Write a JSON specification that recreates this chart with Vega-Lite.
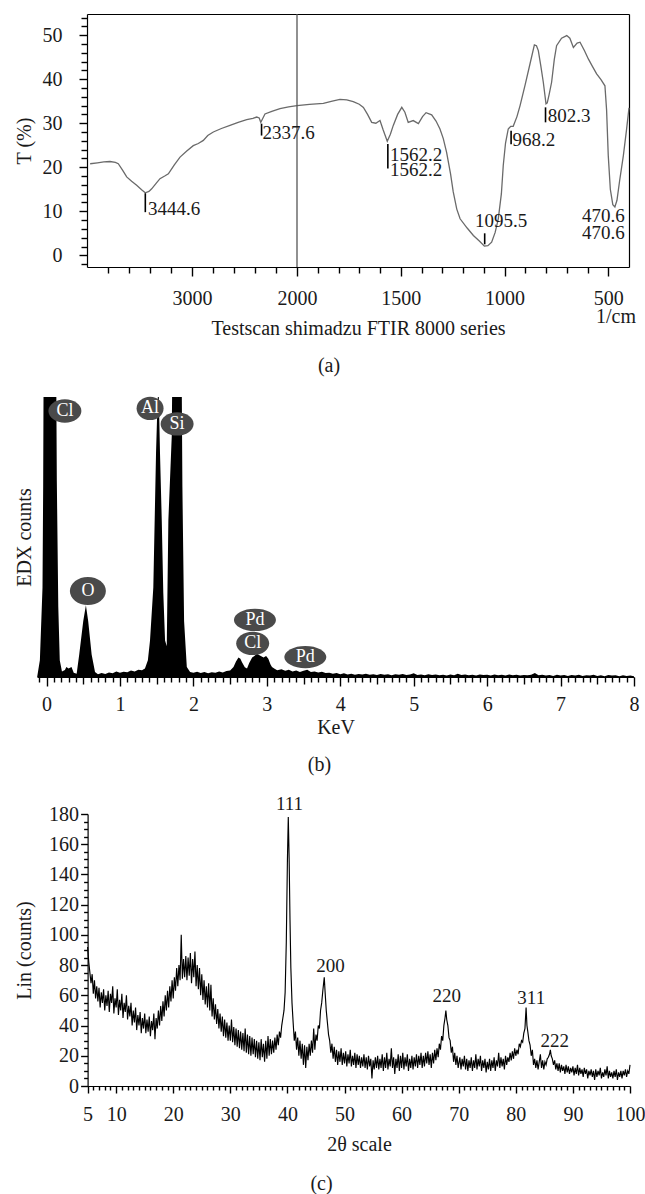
{
"$schema": "https://vega.github.io/schema/vega-lite/v6.json",
"padding": {"left": 14, "top": 13, "right": 0, "bottom": 0},
"background": "white",
"config": {
  "font": "Liberation Serif",
  "view": {"stroke": null},
  "axis": {"labelFont": "Liberation Serif", "titleFont": "Liberation Serif", "labelFontSize": 20, "titleFontSize": 20, "titleFontWeight": "normal", "labelColor": "#1a1a1a", "titleColor": "#1a1a1a", "domainColor": "#000", "tickColor": "#000", "grid": false, "labelFlush": false, "labelOverlap": false, "tickWidth": 1.4, "domainWidth": 1.2},
  "title": {"font": "Liberation Serif", "fontSize": 20, "fontWeight": "normal", "color": "#1a1a1a", "orient": "bottom"}
},
"datasets": {
  "ftir": [{"w":3970,"t":20.8},{"w":3900,"t":21.0},{"w":3840,"t":21.2},{"w":3781,"t":21.3},{"w":3730,"t":21.1},{"w":3702,"t":20.8},{"w":3660,"t":19.3},{"w":3622,"t":17.8},{"w":3575,"t":16.8},{"w":3527,"t":15.9},{"w":3480,"t":14.9},{"w":3445,"t":14.2},{"w":3410,"t":14.5},{"w":3384,"t":15.1},{"w":3340,"t":16.4},{"w":3305,"t":17.4},{"w":3260,"t":18.0},{"w":3225,"t":18.5},{"w":3170,"t":20.5},{"w":3114,"t":22.3},{"w":3050,"t":23.7},{"w":2988,"t":24.9},{"w":2940,"t":25.4},{"w":2892,"t":26.1},{"w":2850,"t":27.2},{"w":2797,"t":28.0},{"w":2720,"t":28.8},{"w":2638,"t":29.5},{"w":2560,"t":30.2},{"w":2479,"t":30.8},{"w":2420,"t":31.1},{"w":2384,"t":31.4},{"w":2360,"t":31.2},{"w":2345,"t":30.2},{"w":2330,"t":30.9},{"w":2305,"t":32.1},{"w":2240,"t":32.7},{"w":2162,"t":33.3},{"w":2080,"t":33.7},{"w":2000,"t":34.0},{"w":1940,"t":34.3},{"w":1873,"t":34.5},{"w":1830,"t":35.0},{"w":1793,"t":35.4},{"w":1760,"t":35.3},{"w":1729,"t":34.9},{"w":1700,"t":34.3},{"w":1680,"t":33.6},{"w":1660,"t":32.0},{"w":1640,"t":30.2},{"w":1620,"t":30.0},{"w":1600,"t":30.6},{"w":1585,"t":28.5},{"w":1565,"t":25.9},{"w":1550,"t":27.5},{"w":1536,"t":29.5},{"w":1515,"t":32.0},{"w":1495,"t":33.6},{"w":1480,"t":32.5},{"w":1464,"t":30.2},{"w":1440,"t":30.6},{"w":1415,"t":29.9},{"w":1395,"t":31.5},{"w":1378,"t":32.4},{"w":1351,"t":31.9},{"w":1330,"t":30.5},{"w":1311,"t":28.7},{"w":1295,"t":26.5},{"w":1279,"t":23.4},{"w":1260,"t":18.5},{"w":1247,"t":14.4},{"w":1230,"t":10.5},{"w":1214,"t":8.3},{"w":1180,"t":6.2},{"w":1150,"t":4.5},{"w":1120,"t":3.2},{"w":1097,"t":2.1},{"w":1080,"t":2.2},{"w":1062,"t":3.0},{"w":1045,"t":5.2},{"w":1030,"t":8.3},{"w":1015,"t":14.0},{"w":1006,"t":20.4},{"w":995,"t":25.5},{"w":982,"t":28.7},{"w":970,"t":29.3},{"w":958,"t":29.3},{"w":940,"t":31.5},{"w":925,"t":34.0},{"w":900,"t":38.8},{"w":877,"t":43.5},{"w":856,"t":47.8},{"w":846,"t":47.6},{"w":837,"t":46.5},{"w":825,"t":43.0},{"w":813,"t":39.3},{"w":800,"t":34.4},{"w":794,"t":34.6},{"w":785,"t":36.5},{"w":773,"t":39.3},{"w":760,"t":44.5},{"w":749,"t":47.6},{"w":725,"t":49.3},{"w":700,"t":49.9},{"w":685,"t":49.3},{"w":668,"t":47.2},{"w":650,"t":48.2},{"w":636,"t":48.4},{"w":615,"t":46.5},{"w":596,"t":44.6},{"w":575,"t":42.8},{"w":556,"t":41.2},{"w":535,"t":39.9},{"w":516,"t":38.5},{"w":508,"t":33.0},{"w":500,"t":22.7},{"w":490,"t":15.0},{"w":478,"t":11.5},{"w":468,"t":11.0},{"w":458,"t":12.5},{"w":445,"t":17.0},{"w":427,"t":22.7},{"w":412,"t":28.5},{"w":400,"t":33.5}],
  "ftirMarks": [{"w":3444.6,"y1":14.1,"y2":9.8},{"w":2337.6,"y1":29.9,"y2":27.2},{"w":1562.2,"y1":25.3,"y2":19.7},{"w":1095.5,"y1":5.0,"y2":2.5},{"w":968.2,"y1":28.3,"y2":25.2},{"w":802.3,"y1":33.6,"y2":30.2}],
  "ftirLabels": [{"w":3420,"t":9.2,"label":"3444.6"},{"w":2329,"t":26.5,"label":"2337.6"},{"w":1552,"t":21.5,"label":"1562.2"},{"w":1552,"t":18.1,"label":"1562.2"},{"w":1142,"t":6.4,"label":"1095.5"},{"w":962,"t":24.9,"label":"968.2"},{"w":792,"t":30.2,"label":"802.3"},{"w":627,"t":7.55,"label":"470.6"},{"w":627,"t":3.8,"label":"470.6"}],
  "edx": [{"k":-0.128,"v":0},{"k":-0.091,"v":6},{"k":-0.055,"v":32},{"k":-0.046,"v":68},{"k":-0.037,"v":130},{"k":0.04,"v":135},{"k":0.127,"v":130},{"k":0.14,"v":70},{"k":0.16,"v":25},{"k":0.18,"v":6},{"k":0.21,"v":2},{"k":0.25,"v":2.5},{"k":0.27,"v":3.6},{"k":0.30,"v":3.0},{"k":0.34,"v":3.6},{"k":0.37,"v":1.5},{"k":0.41,"v":1.2},{"k":0.445,"v":8},{"k":0.50,"v":20},{"k":0.536,"v":25.6},{"k":0.567,"v":20},{"k":0.614,"v":8},{"k":0.66,"v":1.8},{"k":0.70,"v":1.0},{"k":0.75,"v":1.4},{"k":0.80,"v":1.1},{"k":0.85,"v":1.6},{"k":0.90,"v":1.3},{"k":0.95,"v":2.0},{"k":1.00,"v":1.5},{"k":1.05,"v":1.9},{"k":1.10,"v":1.7},{"k":1.15,"v":2.3},{"k":1.20,"v":2.0},{"k":1.25,"v":2.6},{"k":1.30,"v":2.4},{"k":1.34,"v":3.0},{"k":1.38,"v":6},{"k":1.409,"v":13},{"k":1.454,"v":32},{"k":1.491,"v":80},{"k":1.51,"v":97},{"k":1.525,"v":105},{"k":1.545,"v":80},{"k":1.569,"v":56},{"k":1.59,"v":30},{"k":1.614,"v":13},{"k":1.637,"v":11},{"k":1.659,"v":56},{"k":1.705,"v":86},{"k":1.72,"v":130},{"k":1.78,"v":132},{"k":1.835,"v":130},{"k":1.85,"v":68},{"k":1.873,"v":20},{"k":1.91,"v":3.6},{"k":1.955,"v":1.8},{"k":2.00,"v":1.5},{"k":2.05,"v":1.9},{"k":2.10,"v":1.4},{"k":2.15,"v":1.8},{"k":2.20,"v":1.3},{"k":2.25,"v":1.7},{"k":2.30,"v":1.5},{"k":2.35,"v":2.0},{"k":2.40,"v":1.6},{"k":2.45,"v":2.1},{"k":2.50,"v":2.3},{"k":2.546,"v":3.6},{"k":2.58,"v":5.5},{"k":2.614,"v":7},{"k":2.64,"v":6.5},{"k":2.66,"v":5.4},{"k":2.70,"v":3.5},{"k":2.73,"v":3},{"k":2.76,"v":5},{"k":2.80,"v":7},{"k":2.83,"v":7.5},{"k":2.865,"v":8.3},{"k":2.90,"v":7.8},{"k":2.955,"v":7},{"k":2.99,"v":7.5},{"k":3.02,"v":6.5},{"k":3.05,"v":4.5},{"k":3.07,"v":3.6},{"k":3.10,"v":3.0},{"k":3.14,"v":2.4},{"k":3.2,"v":2.8},{"k":3.25,"v":2.2},{"k":3.3,"v":2.6},{"k":3.35,"v":2.0},{"k":3.4,"v":2.3},{"k":3.45,"v":1.8},{"k":3.5,"v":2.2},{"k":3.55,"v":2.6},{"k":3.6,"v":1.8},{"k":3.65,"v":2.0},{"k":3.7,"v":1.6},{"k":3.75,"v":1.9},{"k":3.8,"v":1.4},{"k":3.85,"v":1.5},{"k":3.9,"v":1.2},{"k":3.95,"v":1.4},{"k":4.0,"v":1.0},{"k":4.05,"v":1.3},{"k":4.1,"v":0.9},{"k":4.15,"v":1.2},{"k":4.2,"v":0.8},{"k":4.25,"v":1.1},{"k":4.3,"v":0.9},{"k":4.35,"v":1.2},{"k":4.4,"v":0.8},{"k":4.45,"v":1.0},{"k":4.5,"v":0.7},{"k":4.55,"v":1.1},{"k":4.6,"v":0.8},{"k":4.65,"v":1.0},{"k":4.7,"v":0.6},{"k":4.75,"v":1.0},{"k":4.8,"v":0.8},{"k":4.85,"v":1.1},{"k":4.9,"v":0.7},{"k":4.95,"v":0.9},{"k":5.0,"v":1.3},{"k":5.05,"v":0.7},{"k":5.1,"v":0.9},{"k":5.15,"v":0.6},{"k":5.2,"v":1.0},{"k":5.25,"v":0.7},{"k":5.3,"v":0.9},{"k":5.35,"v":0.6},{"k":5.4,"v":0.8},{"k":5.45,"v":0.5},{"k":5.5,"v":0.9},{"k":5.55,"v":0.6},{"k":5.6,"v":1.2},{"k":5.65,"v":0.7},{"k":5.7,"v":0.9},{"k":5.75,"v":0.6},{"k":5.8,"v":0.8},{"k":5.85,"v":0.5},{"k":5.9,"v":0.9},{"k":5.95,"v":0.7},{"k":6.0,"v":0.8},{"k":6.05,"v":0.5},{"k":6.1,"v":0.9},{"k":6.15,"v":0.6},{"k":6.2,"v":0.8},{"k":6.25,"v":0.5},{"k":6.3,"v":0.9},{"k":6.35,"v":0.6},{"k":6.4,"v":0.8},{"k":6.45,"v":0.5},{"k":6.5,"v":0.7},{"k":6.55,"v":0.6},{"k":6.6,"v":0.8},{"k":6.65,"v":1.4},{"k":6.7,"v":0.6},{"k":6.75,"v":0.8},{"k":6.8,"v":0.5},{"k":6.85,"v":0.7},{"k":6.9,"v":0.4},{"k":6.95,"v":0.8},{"k":7.0,"v":0.5},{"k":7.05,"v":0.7},{"k":7.1,"v":0.4},{"k":7.15,"v":0.7},{"k":7.2,"v":0.5},{"k":7.25,"v":0.8},{"k":7.3,"v":0.4},{"k":7.35,"v":0.6},{"k":7.4,"v":0.5},{"k":7.45,"v":0.8},{"k":7.5,"v":0.4},{"k":7.55,"v":0.6},{"k":7.6,"v":0.3},{"k":7.65,"v":0.7},{"k":7.7,"v":0.5},{"k":7.75,"v":0.6},{"k":7.8,"v":0.3},{"k":7.85,"v":0.6},{"k":7.9,"v":0.4},{"k":7.95,"v":0.5},{"k":8.0,"v":0.3}],
  "edxLabels": [{"k":0.25,"v":95,"el":"Cl"},{"k":1.41,"v":95.9,"el":"Al"},{"k":1.778,"v":90.4,"el":"Si"},{"k":0.563,"v":30.7,"el":"O"},{"k":2.838,"v":20.4,"el":"Pd"},{"k":2.807,"v":12.0,"el":"Cl"},{"k":3.524,"v":7.1,"el":"Pd"}],
  "xrd": [{"a":5,"c":92},{"a":5.2,"c":82},{"a":5.4,"c":75},{"a":5.6,"c":68},{"a":5.8,"c":74},{"a":6,"c":61},{"a":6.2,"c":70},{"a":6.4,"c":58},{"a":6.6,"c":66},{"a":6.8,"c":56},{"a":7,"c":65},{"a":7.2,"c":52},{"a":7.4,"c":62},{"a":7.6,"c":55},{"a":7.8,"c":64},{"a":8,"c":50},{"a":8.2,"c":60},{"a":8.4,"c":53},{"a":8.6,"c":63},{"a":8.8,"c":49},{"a":9,"c":61},{"a":9.2,"c":55},{"a":9.4,"c":66},{"a":9.6,"c":48},{"a":9.8,"c":58},{"a":10,"c":52},{"a":10.2,"c":64},{"a":10.4,"c":47},{"a":10.6,"c":57},{"a":10.8,"c":50},{"a":11,"c":61},{"a":11.2,"c":45},{"a":11.4,"c":55},{"a":11.6,"c":49},{"a":11.8,"c":60},{"a":12,"c":44},{"a":12.2,"c":53},{"a":12.4,"c":46},{"a":12.6,"c":55},{"a":12.8,"c":40},{"a":13,"c":50},{"a":13.2,"c":42},{"a":13.4,"c":52},{"a":13.6,"c":37},{"a":13.8,"c":47},{"a":14,"c":40},{"a":14.2,"c":49},{"a":14.4,"c":35},{"a":14.6,"c":45},{"a":14.8,"c":38},{"a":15,"c":48},{"a":15.2,"c":35},{"a":15.4,"c":44},{"a":15.6,"c":36},{"a":15.8,"c":46},{"a":16,"c":33},{"a":16.2,"c":43},{"a":16.4,"c":37},{"a":16.6,"c":48},{"a":16.8,"c":31},{"a":17,"c":45},{"a":17.2,"c":38},{"a":17.4,"c":50},{"a":17.6,"c":40},{"a":17.8,"c":53},{"a":18,"c":43},{"a":18.2,"c":56},{"a":18.4,"c":46},{"a":18.6,"c":60},{"a":18.8,"c":50},{"a":19,"c":63},{"a":19.2,"c":52},{"a":19.4,"c":66},{"a":19.6,"c":56},{"a":19.8,"c":70},{"a":20,"c":58},{"a":20.2,"c":72},{"a":20.4,"c":63},{"a":20.6,"c":78},{"a":20.8,"c":66},{"a":21,"c":80},{"a":21.2,"c":70},{"a":21.4,"c":100},{"a":21.6,"c":71},{"a":21.8,"c":84},{"a":22,"c":72},{"a":22.2,"c":86},{"a":22.4,"c":70},{"a":22.6,"c":85},{"a":22.8,"c":73},{"a":23,"c":88},{"a":23.2,"c":68},{"a":23.4,"c":84},{"a":23.6,"c":72},{"a":23.8,"c":89},{"a":24,"c":66},{"a":24.2,"c":80},{"a":24.4,"c":64},{"a":24.6,"c":78},{"a":24.8,"c":60},{"a":25,"c":74},{"a":25.2,"c":57},{"a":25.4,"c":70},{"a":25.6,"c":54},{"a":25.8,"c":66},{"a":26,"c":52},{"a":26.2,"c":68},{"a":26.4,"c":50},{"a":26.6,"c":67},{"a":26.8,"c":46},{"a":27,"c":58},{"a":27.2,"c":44},{"a":27.4,"c":54},{"a":27.6,"c":41},{"a":27.8,"c":51},{"a":28,"c":38},{"a":28.2,"c":48},{"a":28.4,"c":36},{"a":28.6,"c":46},{"a":28.8,"c":33},{"a":29,"c":44},{"a":29.2,"c":32},{"a":29.4,"c":42},{"a":29.6,"c":30},{"a":29.8,"c":40},{"a":30,"c":30},{"a":30.2,"c":44},{"a":30.4,"c":29},{"a":30.6,"c":39},{"a":30.8,"c":27},{"a":31,"c":38},{"a":31.2,"c":26},{"a":31.4,"c":37},{"a":31.6,"c":25},{"a":31.8,"c":36},{"a":32,"c":24},{"a":32.2,"c":35},{"a":32.4,"c":23},{"a":32.6,"c":38},{"a":32.8,"c":22},{"a":33,"c":34},{"a":33.2,"c":21},{"a":33.4,"c":33},{"a":33.6,"c":20},{"a":33.8,"c":32},{"a":34,"c":21},{"a":34.2,"c":31},{"a":34.4,"c":19},{"a":34.6,"c":30},{"a":34.8,"c":18},{"a":35,"c":29},{"a":35.2,"c":17},{"a":35.4,"c":31},{"a":35.6,"c":19},{"a":35.8,"c":28},{"a":36,"c":16},{"a":36.2,"c":30},{"a":36.4,"c":18},{"a":36.6,"c":33},{"a":36.8,"c":20},{"a":37,"c":31},{"a":37.2,"c":21},{"a":37.4,"c":30},{"a":37.6,"c":22},{"a":37.8,"c":32},{"a":38,"c":24},{"a":38.2,"c":34},{"a":38.4,"c":27},{"a":38.6,"c":36},{"a":38.8,"c":32},{"a":39,"c":40},{"a":39.2,"c":45},{"a":39.4,"c":50},{"a":39.6,"c":62},{"a":39.8,"c":95},{"a":40,"c":150},{"a":40.15,"c":178},{"a":40.3,"c":150},{"a":40.45,"c":110},{"a":40.6,"c":78},{"a":40.8,"c":55},{"a":41,"c":42},{"a":41.2,"c":30},{"a":41.4,"c":36},{"a":41.6,"c":24},{"a":41.8,"c":32},{"a":42,"c":20},{"a":42.2,"c":30},{"a":42.4,"c":18},{"a":42.6,"c":28},{"a":42.8,"c":14},{"a":43,"c":27},{"a":43.2,"c":12},{"a":43.4,"c":26},{"a":43.6,"c":17},{"a":43.8,"c":28},{"a":44,"c":20},{"a":44.2,"c":30},{"a":44.4,"c":22},{"a":44.6,"c":38},{"a":44.8,"c":24},{"a":45,"c":34},{"a":45.2,"c":30},{"a":45.4,"c":40},{"a":45.6,"c":38},{"a":45.8,"c":50},{"a":46,"c":55},{"a":46.2,"c":63},{"a":46.45,"c":72},{"a":46.6,"c":62},{"a":46.8,"c":50},{"a":47,"c":42},{"a":47.2,"c":34},{"a":47.4,"c":30},{"a":47.6,"c":22},{"a":47.8,"c":28},{"a":48,"c":18},{"a":48.2,"c":26},{"a":48.4,"c":16},{"a":48.6,"c":24},{"a":48.8,"c":14},{"a":49,"c":23},{"a":49.2,"c":16},{"a":49.4,"c":25},{"a":49.6,"c":14},{"a":49.8,"c":22},{"a":50,"c":15},{"a":50.2,"c":23},{"a":50.4,"c":13},{"a":50.6,"c":21},{"a":50.8,"c":15},{"a":51,"c":24},{"a":51.2,"c":13},{"a":51.4,"c":20},{"a":51.6,"c":14},{"a":51.8,"c":22},{"a":52,"c":12},{"a":52.2,"c":21},{"a":52.4,"c":14},{"a":52.6,"c":20},{"a":52.8,"c":12},{"a":53,"c":19},{"a":53.2,"c":13},{"a":53.4,"c":21},{"a":53.6,"c":12},{"a":53.8,"c":19},{"a":54,"c":11},{"a":54.2,"c":20},{"a":54.4,"c":13},{"a":54.6,"c":18},{"a":54.8,"c":5},{"a":55,"c":17},{"a":55.2,"c":11},{"a":55.4,"c":19},{"a":55.6,"c":12},{"a":55.8,"c":20},{"a":56,"c":11},{"a":56.2,"c":18},{"a":56.4,"c":12},{"a":56.6,"c":21},{"a":56.8,"c":10},{"a":57,"c":19},{"a":57.2,"c":12},{"a":57.4,"c":22},{"a":57.6,"c":11},{"a":57.8,"c":18},{"a":58,"c":13},{"a":58.2,"c":25},{"a":58.4,"c":12},{"a":58.6,"c":19},{"a":58.8,"c":8},{"a":59,"c":18},{"a":59.2,"c":12},{"a":59.4,"c":21},{"a":59.6,"c":10},{"a":59.8,"c":20},{"a":60,"c":12},{"a":60.2,"c":22},{"a":60.4,"c":11},{"a":60.6,"c":19},{"a":60.8,"c":13},{"a":61,"c":21},{"a":61.2,"c":10},{"a":61.4,"c":18},{"a":61.6,"c":12},{"a":61.8,"c":20},{"a":62,"c":11},{"a":62.2,"c":19},{"a":62.4,"c":13},{"a":62.6,"c":21},{"a":62.8,"c":12},{"a":63,"c":20},{"a":63.2,"c":14},{"a":63.4,"c":22},{"a":63.6,"c":12},{"a":63.8,"c":20},{"a":64,"c":13},{"a":64.2,"c":22},{"a":64.4,"c":15},{"a":64.6,"c":23},{"a":64.8,"c":14},{"a":65,"c":21},{"a":65.2,"c":12},{"a":65.4,"c":22},{"a":65.6,"c":15},{"a":65.8,"c":24},{"a":66,"c":17},{"a":66.2,"c":25},{"a":66.4,"c":19},{"a":66.6,"c":28},{"a":66.8,"c":24},{"a":67,"c":33},{"a":67.2,"c":30},{"a":67.4,"c":40},{"a":67.6,"c":45},{"a":67.75,"c":50},{"a":67.9,"c":44},{"a":68.1,"c":40},{"a":68.3,"c":32},{"a":68.5,"c":30},{"a":68.7,"c":22},{"a":68.9,"c":26},{"a":69.1,"c":16},{"a":69.3,"c":22},{"a":69.5,"c":14},{"a":69.7,"c":20},{"a":69.9,"c":12},{"a":70.2,"c":19},{"a":70.4,"c":11},{"a":70.6,"c":18},{"a":70.8,"c":13},{"a":71,"c":20},{"a":71.2,"c":11},{"a":71.4,"c":18},{"a":71.6,"c":10},{"a":71.8,"c":17},{"a":72,"c":12},{"a":72.2,"c":19},{"a":72.4,"c":10},{"a":72.6,"c":17},{"a":72.8,"c":12},{"a":73,"c":21},{"a":73.2,"c":11},{"a":73.4,"c":18},{"a":73.6,"c":13},{"a":73.8,"c":20},{"a":74,"c":10},{"a":74.2,"c":17},{"a":74.4,"c":12},{"a":74.6,"c":18},{"a":74.8,"c":9},{"a":75,"c":16},{"a":75.2,"c":11},{"a":75.4,"c":18},{"a":75.6,"c":10},{"a":75.8,"c":17},{"a":76,"c":12},{"a":76.2,"c":19},{"a":76.4,"c":10},{"a":76.6,"c":17},{"a":76.8,"c":13},{"a":77,"c":22},{"a":77.2,"c":12},{"a":77.4,"c":19},{"a":77.6,"c":13},{"a":77.8,"c":18},{"a":78,"c":11},{"a":78.2,"c":20},{"a":78.4,"c":14},{"a":78.6,"c":19},{"a":78.8,"c":16},{"a":79,"c":22},{"a":79.2,"c":17},{"a":79.4,"c":23},{"a":79.6,"c":18},{"a":79.8,"c":25},{"a":80,"c":20},{"a":80.2,"c":24},{"a":80.4,"c":21},{"a":80.6,"c":28},{"a":80.8,"c":26},{"a":81,"c":30},{"a":81.2,"c":29},{"a":81.4,"c":35},{"a":81.6,"c":38},{"a":81.8,"c":52},{"a":81.95,"c":40},{"a":82.1,"c":36},{"a":82.3,"c":30},{"a":82.5,"c":27},{"a":82.7,"c":20},{"a":82.9,"c":24},{"a":83.1,"c":14},{"a":83.3,"c":18},{"a":83.5,"c":12},{"a":83.7,"c":17},{"a":83.9,"c":11},{"a":84.1,"c":16},{"a":84.3,"c":21},{"a":84.5,"c":12},{"a":84.7,"c":17},{"a":84.9,"c":11},{"a":85.1,"c":16},{"a":85.3,"c":14},{"a":85.5,"c":18},{"a":85.7,"c":19},{"a":85.9,"c":21},{"a":86.05,"c":24},{"a":86.2,"c":20},{"a":86.4,"c":18},{"a":86.6,"c":14},{"a":86.8,"c":17},{"a":87,"c":11},{"a":87.2,"c":15},{"a":87.4,"c":10},{"a":87.6,"c":15},{"a":87.8,"c":9},{"a":88,"c":14},{"a":88.2,"c":10},{"a":88.4,"c":13},{"a":88.6,"c":8},{"a":88.8,"c":14},{"a":89,"c":9},{"a":89.2,"c":13},{"a":89.4,"c":8},{"a":89.6,"c":12},{"a":89.8,"c":9},{"a":90,"c":13},{"a":90.2,"c":7},{"a":90.4,"c":12},{"a":90.6,"c":8},{"a":90.8,"c":14},{"a":91,"c":7},{"a":91.2,"c":12},{"a":91.4,"c":8},{"a":91.6,"c":11},{"a":91.8,"c":6},{"a":92,"c":12},{"a":92.2,"c":8},{"a":92.4,"c":11},{"a":92.6,"c":5},{"a":92.8,"c":10},{"a":93,"c":7},{"a":93.2,"c":11},{"a":93.4,"c":6},{"a":93.6,"c":10},{"a":93.8,"c":4},{"a":94,"c":11},{"a":94.2,"c":6},{"a":94.4,"c":10},{"a":94.6,"c":7},{"a":94.8,"c":12},{"a":95,"c":5},{"a":95.2,"c":9},{"a":95.4,"c":6},{"a":95.6,"c":11},{"a":95.8,"c":7},{"a":96,"c":13},{"a":96.2,"c":5},{"a":96.4,"c":10},{"a":96.6,"c":6},{"a":96.8,"c":9},{"a":97,"c":5},{"a":97.2,"c":10},{"a":97.4,"c":6},{"a":97.6,"c":11},{"a":97.8,"c":4},{"a":98,"c":9},{"a":98.2,"c":6},{"a":98.4,"c":10},{"a":98.6,"c":5},{"a":98.8,"c":10},{"a":99,"c":7},{"a":99.2,"c":11},{"a":99.4,"c":6},{"a":99.6,"c":10},{"a":99.8,"c":8},{"a":100,"c":14}],
  "xrdLabels": [{"a":40.36,"c":182.6,"label":"111"},{"a":47.55,"c":75.7,"label":"200"},{"a":67.9,"c":55.6,"label":"220"},{"a":82.7,"c":54.4,"label":"311"},{"a":86.8,"c":25.7,"label":"222"}]
},
"spacing": 20,
"vconcat": [
 {
  "width": 592, "height": 253,
  "title": {"text": "(a)", "offset": 18, "dx": -4},
  "resolve": {"axis": {"x": "independent", "y": "independent"}},
  "layer": [
   {"data": {"name": "ftir"},
    "mark": {"type": "line", "color": "#6a6a6a", "strokeWidth": 1.3},
    "encoding": {
      "x": {"field": "w", "type": "quantitative", "scale": {"domain": [4000, 2000, 400], "range": [50, 260, 592], "nice": false, "zero": false},
            "axis": {"orient": "bottom", "values": [3000, 2000, 1500, 1000, 500], "format": "d", "tickSize": 9, "labelPadding": 12, "title": "Testscan shimadzu FTIR 8000 series", "titlePadding": 10, "titleX": 321}},
      "y": {"field": "t", "type": "quantitative", "scale": {"domain": [-2.65, 54.8], "nice": false, "zero": false},
            "axis": {"orient": "left", "offset": -50, "values": [0, 10, 20, 30, 40, 50], "format": "d", "tickSize": 8, "labelPadding": 17, "title": "T (%)", "titlePadding": 8}}
    }},
   {"data": {"values": [{}]},
    "mark": {"type": "rule", "color": "#555", "strokeWidth": 1.3},
    "encoding": {
      "x": {"datum": 2000, "type": "quantitative", "scale": {"domain": [4000, 2000, 400], "range": [50, 260, 592], "nice": false, "zero": false},
            "axis": {"orient": "top", "ticks": false, "labels": false, "domain": true, "title": null}}
    }},
   {"data": {"name": "ftirMarks"},
    "mark": {"type": "rule", "color": "#000", "strokeWidth": 1.6},
    "encoding": {
      "x": {"field": "w", "type": "quantitative", "scale": {"domain": [4000, 2000, 400], "range": [50, 260, 592], "nice": false, "zero": false},
            "axis": {"orient": "bottom", "values": [3800, 3600, 3400, 3200, 2800, 2600, 2400, 2200, 1900, 1800, 1700, 1600, 1400, 1300, 1200, 1100, 900, 800, 700, 600], "tickSize": 6, "labels": false, "domain": false, "title": null}},
      "y": {"field": "y1", "type": "quantitative", "scale": {"domain": [-2.65, 54.8], "nice": false, "zero": false},
            "axis": {"orient": "left", "offset": -50, "values": [-2, 2, 4, 6, 8, 12, 14, 16, 18, 22, 24, 26, 28, 32, 34, 36, 38, 42, 44, 46, 48, 52, 54], "tickSize": 6, "labels": false, "domain": false, "title": null}},
      "y2": {"field": "y2"}
    }},
   {"data": {"name": "ftirLabels"},
    "mark": {"type": "text", "align": "left", "baseline": "alphabetic", "fontSize": 19, "font": "Liberation Serif", "color": "#1a1a1a"},
    "encoding": {
      "x": {"field": "w", "type": "quantitative", "scale": {"domain": [4000, 2000, 400], "range": [50, 260, 592], "nice": false, "zero": false}, "axis": null},
      "y": {"field": "t", "type": "quantitative", "scale": {"domain": [-2.65, 54.8], "nice": false, "zero": false},
            "axis": {"orient": "right", "ticks": false, "labels": false, "domain": true, "title": null}},
      "text": {"field": "label"}
    }},
   {"data": {"values": [{"w": 366, "t": -15.4, "label": "1/cm"}]},
    "mark": {"type": "text", "align": "right", "baseline": "alphabetic", "fontSize": 20, "font": "Liberation Serif", "color": "#1a1a1a"},
    "encoding": {
      "x": {"field": "w", "type": "quantitative", "scale": {"domain": [4000, 2000, 400], "range": [50, 260, 592], "nice": false, "zero": false}, "axis": null},
      "y": {"field": "t", "type": "quantitative", "scale": {"domain": [-2.65, 54.8], "nice": false, "zero": false}, "axis": null},
      "text": {"field": "label"}
    }}
  ]
 },
 {
  "width": 597, "height": 280,
  "title": {"text": "(b)", "offset": 18, "dx": -16},
  "resolve": {"axis": {"x": "independent", "y": "independent"}},
  "layer": [
   {"data": {"name": "edx"},
    "mark": {"type": "area", "color": "#000", "clip": true, "opacity": 1},
    "encoding": {
      "x": {"field": "k", "type": "quantitative", "scale": {"domain": [-0.13, 8], "nice": false, "zero": false},
            "axis": {"orient": "bottom", "values": [0, 1, 2, 3, 4, 5, 6, 7, 8], "format": "d", "tickSize": 9, "labelPadding": 8, "title": "KeV", "titlePadding": 3}},
      "y": {"field": "v", "type": "quantitative", "stack": null, "scale": {"domain": [0, 100], "nice": false, "zero": false},
            "axis": {"orient": "left", "labels": false, "ticks": false, "domain": false, "title": "EDX counts", "titlePadding": 3}}
    }},
   {"data": {"name": "edxLabels"},
    "transform": [{"filter": "datum.el === 'Cl' || datum.el === 'Si'"}],
    "mark": {"type": "point", "filled": true, "opacity": 1, "color": "#4a4a4a", "strokeWidth": 0, "size": 1089, "shape": "M-1,0A1,0.71,0,1,0,1,0A1,0.71,0,1,0,-1,0Z"},
    "encoding": {
      "x": {"field": "k", "type": "quantitative", "scale": {"domain": [-0.13, 8], "nice": false, "zero": false},
            "axis": {"orient": "bottom", "values": [0.5, 1.5, 2.5, 3.5, 4.5, 5.5, 6.5, 7.5], "tickSize": 7, "labels": false, "domain": false, "title": null}},
      "y": {"field": "v", "type": "quantitative", "scale": {"domain": [0, 100], "nice": false, "zero": false}, "axis": null}
    }},
   {"data": {"name": "edxLabels"},
    "transform": [{"filter": "datum.el === 'Al'"}],
    "mark": {"type": "point", "filled": true, "opacity": 1, "color": "#4a4a4a", "strokeWidth": 0, "size": 729, "shape": "M-1,0A1,0.86,0,1,0,1,0A1,0.86,0,1,0,-1,0Z"},
    "encoding": {
      "x": {"field": "k", "type": "quantitative", "scale": {"domain": [-0.13, 8], "nice": false, "zero": false}, "axis": null},
      "y": {"field": "v", "type": "quantitative", "scale": {"domain": [0, 100], "nice": false, "zero": false}, "axis": null}
    }},
   {"data": {"name": "edxLabels"},
    "transform": [{"filter": "datum.el === 'O'"}],
    "mark": {"type": "point", "filled": true, "opacity": 1, "color": "#4a4a4a", "strokeWidth": 0, "size": 1296, "shape": "M-1,0A1,0.78,0,1,0,1,0A1,0.78,0,1,0,-1,0Z"},
    "encoding": {
      "x": {"field": "k", "type": "quantitative", "scale": {"domain": [-0.13, 8], "nice": false, "zero": false}, "axis": null},
      "y": {"field": "v", "type": "quantitative", "scale": {"domain": [0, 100], "nice": false, "zero": false}, "axis": null}
    }},
   {"data": {"name": "edxLabels"},
    "transform": [{"filter": "datum.el === 'Pd'"}],
    "mark": {"type": "point", "filled": true, "opacity": 1, "color": "#4a4a4a", "strokeWidth": 0, "size": 1764, "shape": "M-1,0A1,0.53,0,1,0,1,0A1,0.53,0,1,0,-1,0Z"},
    "encoding": {
      "x": {"field": "k", "type": "quantitative", "scale": {"domain": [-0.13, 8], "nice": false, "zero": false}, "axis": null},
      "y": {"field": "v", "type": "quantitative", "scale": {"domain": [0, 100], "nice": false, "zero": false}, "axis": null}
    }},
   {"data": {"name": "edxLabels"},
    "mark": {"type": "text", "align": "center", "baseline": "middle", "fontSize": 18, "font": "Liberation Serif", "color": "#ffffff"},
    "encoding": {
      "x": {"field": "k", "type": "quantitative", "scale": {"domain": [-0.13, 8], "nice": false, "zero": false},
            "axis": {"orient": "bottom", "values": [-0.1, 0.1, 0.2, 0.3, 0.4, 0.6, 0.7, 0.8, 0.9, 1.1, 1.2, 1.3, 1.4, 1.6, 1.7, 1.8, 1.9, 2.1, 2.2, 2.3, 2.4, 2.6, 2.7, 2.8, 2.9, 3.1, 3.2, 3.3, 3.4, 3.6, 3.7, 3.8, 3.9, 4.1, 4.2, 4.3, 4.4, 4.6, 4.7, 4.8, 4.9, 5.1, 5.2, 5.3, 5.4, 5.6, 5.7, 5.8, 5.9, 6.1, 6.2, 6.3, 6.4, 6.6, 6.7, 6.8, 6.9, 7.1, 7.2, 7.3, 7.4, 7.6, 7.7, 7.8, 7.9], "tickSize": 5, "labels": false, "domain": false, "title": null}},
      "y": {"field": "v", "type": "quantitative", "scale": {"domain": [0, 100], "nice": false, "zero": false}, "axis": null},
      "text": {"field": "el"}
    }}
  ]
 },
 {
  "width": 593, "height": 272,
  "title": {"text": "(c)", "offset": 20, "dx": -12},
  "resolve": {"axis": {"x": "independent", "y": "independent"}},
  "layer": [
   {"data": {"name": "xrd"},
    "mark": {"type": "line", "color": "#000", "strokeWidth": 1.15},
    "encoding": {
      "x": {"field": "a", "type": "quantitative", "scale": {"domain": [5, 100], "range": [50.6, 593], "nice": false, "zero": false},
            "axis": {"orient": "bottom", "values": [5, 10, 20, 30, 40, 50, 60, 70, 80, 90, 100], "format": "d", "tickSize": 7, "labelPadding": 11, "title": "2θ scale", "titlePadding": 10, "titleX": 322}},
      "y": {"field": "c", "type": "quantitative", "scale": {"domain": [0, 180], "nice": false, "zero": false},
            "axis": {"orient": "left", "offset": -50.6, "values": [0, 20, 40, 60, 80, 100, 120, 140, 160, 180], "format": "d", "tickSize": 7, "labelPadding": 2, "title": "Lin (counts)", "titlePadding": 14}}
    }},
   {"data": {"name": "xrdLabels"},
    "mark": {"type": "text", "align": "center", "baseline": "alphabetic", "fontSize": 19, "font": "Liberation Serif", "color": "#1a1a1a"},
    "encoding": {
      "x": {"field": "a", "type": "quantitative", "scale": {"domain": [5, 100], "range": [50.6, 593], "nice": false, "zero": false},
            "axis": {"orient": "bottom", "values": [6,7,8,9,11,12,13,14,15,16,17,18,19,21,22,23,24,25,26,27,28,29,31,32,33,34,35,36,37,38,39,41,42,43,44,45,46,47,48,49,51,52,53,54,55,56,57,58,59,61,62,63,64,65,66,67,68,69,71,72,73,74,75,76,77,78,79,81,82,83,84,85,86,87,88,89,91,92,93,94,95,96,97,98,99], "tickSize": 4, "labels": false, "domain": false, "title": null}},
      "y": {"field": "c", "type": "quantitative", "scale": {"domain": [0, 180], "nice": false, "zero": false},
            "axis": {"orient": "left", "offset": -50.6, "values": [5,10,15,25,30,35,45,50,55,65,70,75,85,90,95,105,110,115,125,130,135,145,150,155,165,170,175], "tickSize": 4, "labels": false, "domain": false, "title": null}},
      "text": {"field": "label"}
    }}
  ]
 }
]
}
